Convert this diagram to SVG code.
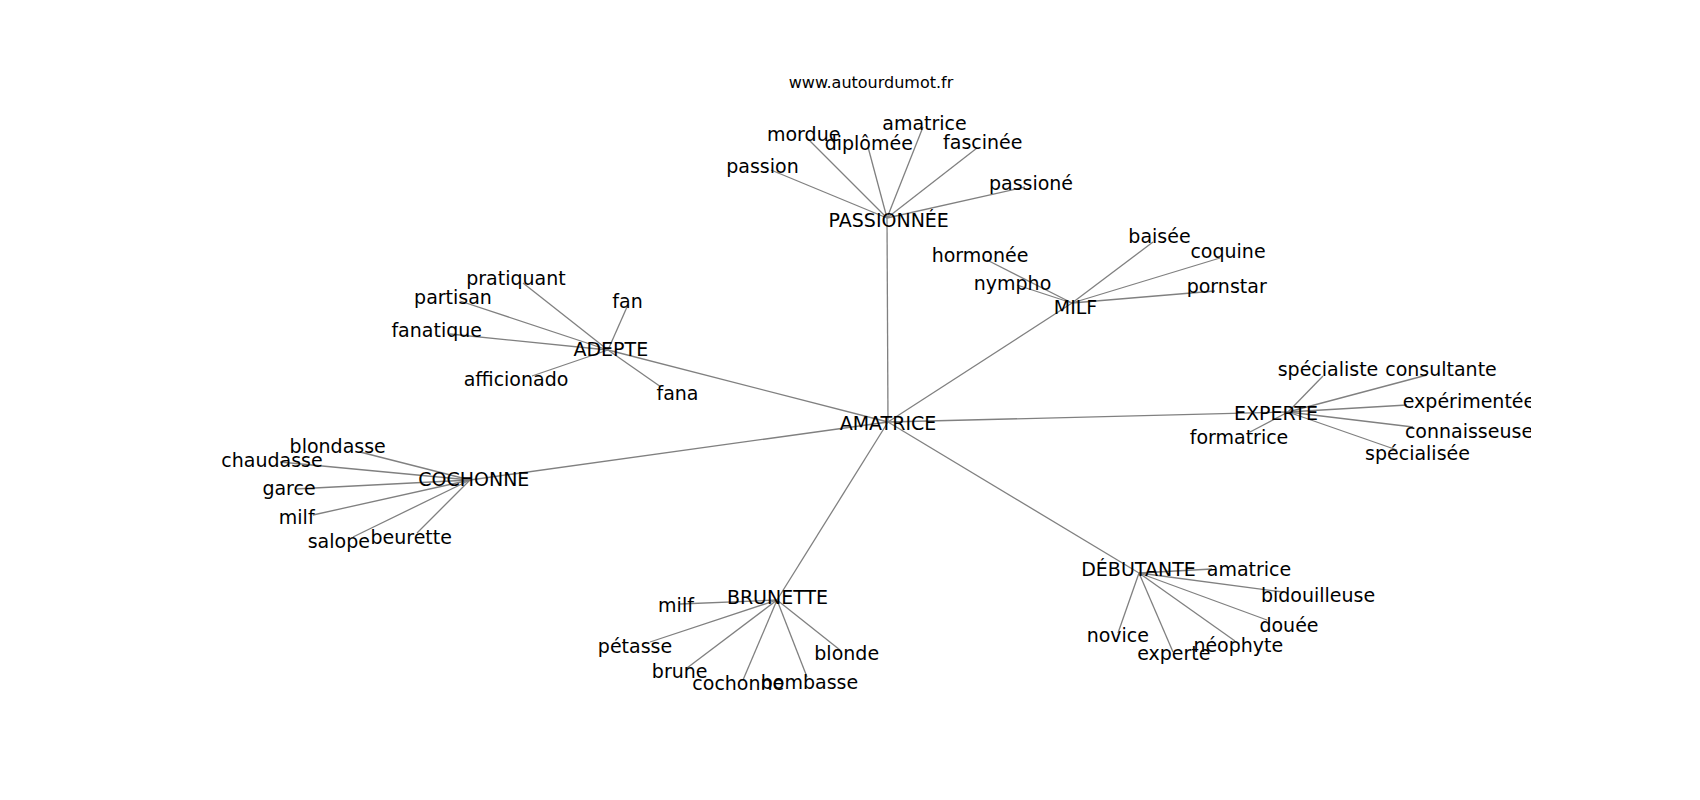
<svg xmlns="http://www.w3.org/2000/svg" width="1700" height="800" viewBox="0 0 1700 800">
<defs>
<style>
.e{stroke:#808080;stroke-width:1.3;fill:none}
text{font-family:"DejaVu Sans","Liberation Sans",sans-serif;font-size:19px;fill:#000;text-anchor:middle}
.t{font-size:16px}
</style>
<clipPath id="ax"><rect x="0" y="0" width="1531" height="800"/></clipPath>
</defs>
<rect width="1700" height="800" fill="#fff"/>
<text class="t" x="871" y="88">www.autourdumot.fr</text>
<g clip-path="url(#ax)">
<g id="edges">
<line class="e" x1="888" y1="422" x2="887" y2="218"/>
<line class="e" x1="888" y1="422" x2="608" y2="350"/>
<line class="e" x1="888" y1="422" x2="1072" y2="303"/>
<line class="e" x1="888" y1="422" x2="1288" y2="412"/>
<line class="e" x1="888" y1="422" x2="470" y2="480"/>
<line class="e" x1="888" y1="422" x2="777" y2="600"/>
<line class="e" x1="888" y1="422" x2="1139" y2="573"/>
<line class="e" x1="887" y1="218" x2="771" y2="170"/>
<line class="e" x1="887" y1="218" x2="806" y2="137"/>
<line class="e" x1="887" y1="218" x2="868" y2="147"/>
<line class="e" x1="887" y1="218" x2="923" y2="127"/>
<line class="e" x1="887" y1="218" x2="977" y2="148"/>
<line class="e" x1="887" y1="218" x2="1025" y2="187"/>
<line class="e" x1="608" y1="350" x2="523" y2="283"/>
<line class="e" x1="608" y1="350" x2="460" y2="301"/>
<line class="e" x1="608" y1="350" x2="450" y2="334"/>
<line class="e" x1="608" y1="350" x2="532" y2="376"/>
<line class="e" x1="608" y1="350" x2="627" y2="307"/>
<line class="e" x1="608" y1="350" x2="661" y2="387"/>
<line class="e" x1="1072" y1="303" x2="987" y2="260"/>
<line class="e" x1="1072" y1="303" x2="1017" y2="285"/>
<line class="e" x1="1072" y1="303" x2="1153" y2="242"/>
<line class="e" x1="1072" y1="303" x2="1220" y2="258"/>
<line class="e" x1="1072" y1="303" x2="1215" y2="291"/>
<line class="e" x1="1288" y1="412" x2="1323" y2="376"/>
<line class="e" x1="1288" y1="412" x2="1427" y2="375"/>
<line class="e" x1="1288" y1="412" x2="1407" y2="405"/>
<line class="e" x1="1288" y1="412" x2="1413" y2="427"/>
<line class="e" x1="1288" y1="412" x2="1397" y2="450"/>
<line class="e" x1="1288" y1="412" x2="1250" y2="432"/>
<line class="e" x1="470" y1="480" x2="360" y2="452"/>
<line class="e" x1="470" y1="480" x2="280" y2="462"/>
<line class="e" x1="470" y1="480" x2="295" y2="489"/>
<line class="e" x1="470" y1="480" x2="313" y2="515"/>
<line class="e" x1="470" y1="480" x2="353" y2="537"/>
<line class="e" x1="470" y1="480" x2="417" y2="533"/>
<line class="e" x1="777" y1="600" x2="680" y2="604"/>
<line class="e" x1="777" y1="600" x2="650" y2="642"/>
<line class="e" x1="777" y1="600" x2="687" y2="668"/>
<line class="e" x1="777" y1="600" x2="743" y2="680"/>
<line class="e" x1="777" y1="600" x2="807" y2="677"/>
<line class="e" x1="777" y1="600" x2="840" y2="650"/>
<line class="e" x1="1139" y1="573" x2="1212" y2="569"/>
<line class="e" x1="1139" y1="573" x2="1283" y2="592"/>
<line class="e" x1="1139" y1="573" x2="1267" y2="620"/>
<line class="e" x1="1139" y1="573" x2="1235" y2="641"/>
<line class="e" x1="1139" y1="573" x2="1173" y2="652"/>
<line class="e" x1="1139" y1="573" x2="1118" y2="633"/>
</g>
<g id="n-amatrice-center"><text x="888" y="430">AMATRICE</text></g>
<g id="n-passionnee"><text x="888.7" y="227">PASSIONNÉE</text></g>
<g id="n-passion"><text x="762.5" y="173">passion</text></g>
<g id="n-mordue"><text x="803.7" y="141">mordue</text></g>
<g id="n-diplomee"><text x="868.8" y="150">diplômée</text></g>
<g id="n-amatrice-p"><text x="924.5" y="130">amatrice</text></g>
<g id="n-fascinee"><text x="982.8" y="149">fascinée</text></g>
<g id="n-passione"><text x="1031" y="190">passioné</text></g>
<g id="n-adepte"><text x="610.8" y="356">ADEPTE</text></g>
<g id="n-pratiquant"><text x="516" y="285">pratiquant</text></g>
<g id="n-partisan"><text x="453" y="304">partisan</text></g>
<g id="n-fanatique"><text x="436.7" y="337">fanatique</text></g>
<g id="n-afficionado"><text x="516" y="386">afficionado</text></g>
<g id="n-fan"><text x="627.5" y="308">fan</text></g>
<g id="n-fana"><text x="677.5" y="400">fana</text></g>
<g id="n-milf-hub"><text x="1075.5" y="314">MILF</text></g>
<g id="n-hormonee"><text x="980" y="262">hormonée</text></g>
<g id="n-nympho"><text x="1012.5" y="290">nympho</text></g>
<g id="n-baisee"><text x="1159.5" y="243">baisée</text></g>
<g id="n-coquine"><text x="1228" y="258">coquine</text></g>
<g id="n-pornstar"><text x="1226.7" y="293">pornstar</text></g>
<g id="n-experte-hub"><text x="1276" y="420">EXPERTE</text></g>
<g id="n-specialiste"><text x="1328" y="376">spécialiste</text></g>
<g id="n-consultante"><text x="1441" y="376">consultante</text></g>
<g id="n-experimentee"><text x="1469" y="408">expérimentée</text></g>
<g id="n-connaisseuse"><text x="1469" y="438">connaisseuse</text></g>
<g id="n-specialisee"><text x="1417.5" y="460">spécialisée</text></g>
<g id="n-formatrice"><text x="1239" y="444">formatrice</text></g>
<g id="n-cochonne-hub"><text x="473.8" y="486">COCHONNE</text></g>
<g id="n-blondasse"><text x="337.7" y="453">blondasse</text></g>
<g id="n-chaudasse"><text x="272" y="467">chaudasse</text></g>
<g id="n-garce"><text x="289" y="495">garce</text></g>
<g id="n-milf-c"><text x="296.7" y="524">milf</text></g>
<g id="n-salope"><text x="338.8" y="548">salope</text></g>
<g id="n-beurette"><text x="411.2" y="544">beurette</text></g>
<g id="n-brunette"><text x="777.5" y="604">BRUNETTE</text></g>
<g id="n-milf-b"><text x="676" y="612">milf</text></g>
<g id="n-petasse"><text x="635" y="653">pétasse</text></g>
<g id="n-brune"><text x="679.7" y="678">brune</text></g>
<g id="n-cochonne-b"><text x="738.3" y="690">cochonne</text></g>
<g id="n-bombasse"><text x="809.5" y="689">bombasse</text></g>
<g id="n-blonde"><text x="846.7" y="660">blonde</text></g>
<g id="n-debutante"><text x="1138.5" y="576">DÉBUTANTE</text></g>
<g id="n-amatrice-d"><text x="1249" y="576">amatrice</text></g>
<g id="n-bidouilleuse"><text x="1318" y="602">bidouilleuse</text></g>
<g id="n-douee"><text x="1289" y="632">douée</text></g>
<g id="n-neophyte"><text x="1238.3" y="652">néophyte</text></g>
<g id="n-experte-d"><text x="1173.8" y="660">experte</text></g>
<g id="n-novice"><text x="1117.8" y="642">novice</text></g>
</g>
</svg>
